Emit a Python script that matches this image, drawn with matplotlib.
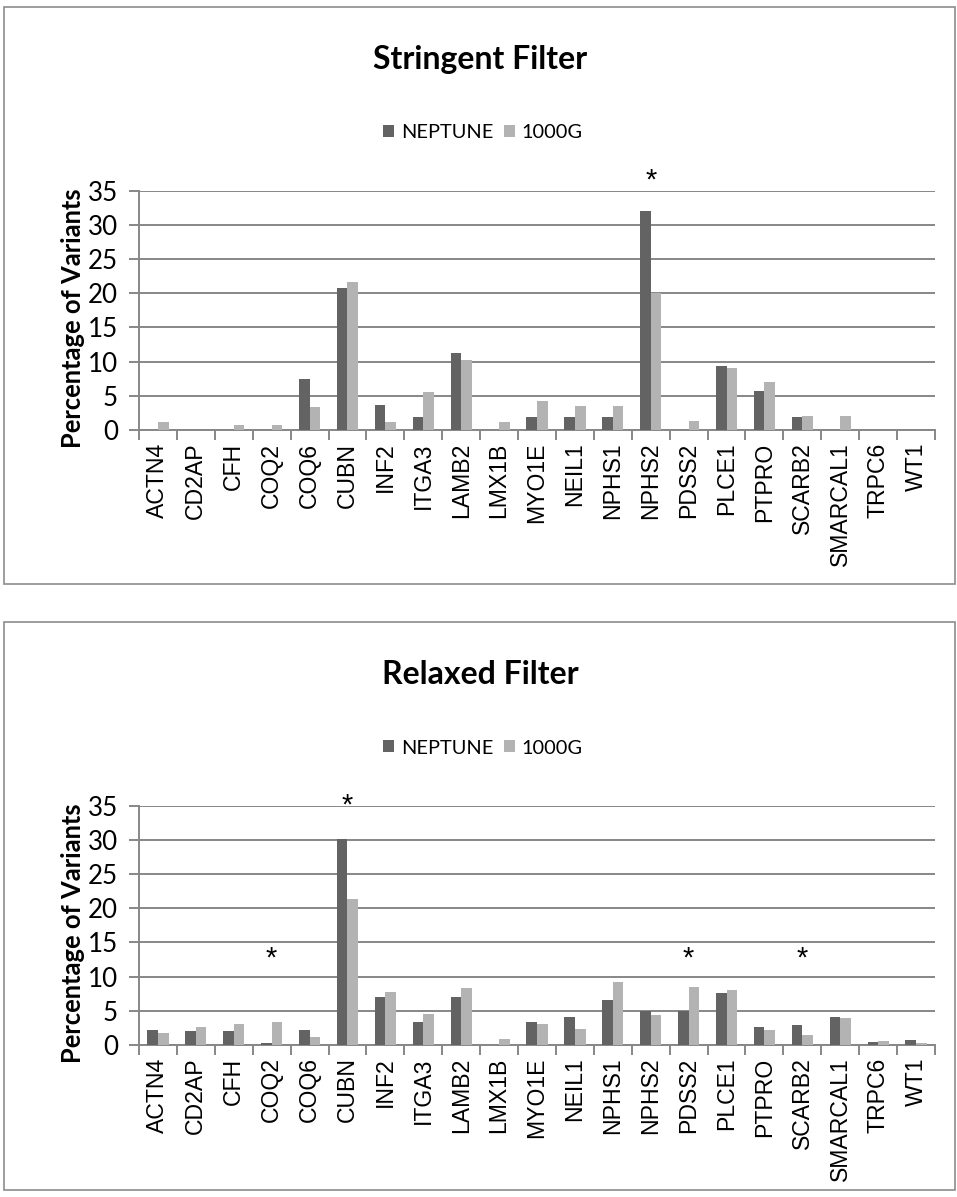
import matplotlib
matplotlib.use("Agg")
import matplotlib.pyplot as plt
from matplotlib.patches import Rectangle
import numpy as np

genes = ["ACTN4", "CD2AP", "CFH", "COQ2", "COQ6", "CUBN", "INF2", "ITGA3", "LAMB2",
         "LMX1B", "MYO1E", "NEIL1", "NPHS1", "NPHS2", "PDSS2", "PLCE1", "PTPRO",
         "SCARB2", "SMARCAL1", "TRPC6", "WT1"]

stringent_neptune = [0, 0, 0, 0, 7.5, 20.8, 3.7, 1.9, 11.3, 0, 1.9, 1.9, 1.9, 32.1,
                     0, 9.3, 5.7, 1.9, 0, 0, 0]
stringent_1000g = [1.1, 0, 0.8, 0.8, 3.3, 21.7, 1.1, 5.5, 10.2, 1.1, 4.2, 3.5, 3.5, 20.0,
                   1.3, 9.0, 7.0, 2.1, 2.1, 0, 0]

relaxed_neptune = [2.2, 2.0, 2.0, 0.25, 2.2, 30.2, 7.0, 3.4, 7.0, 0, 3.4, 4.1, 6.6, 5.0,
                   5.0, 7.6, 2.6, 2.9, 4.1, 0.45, 0.75]
relaxed_1000g = [1.8, 2.7, 3.0, 3.3, 1.2, 21.4, 7.7, 4.6, 8.4, 0.9, 3.0, 2.4, 9.2, 4.4,
                 8.5, 8.0, 2.2, 1.4, 4.0, 0.55, 0.3]

stringent_sig = {"NPHS2": 36.5}
relaxed_sig = {"COQ2": 12.6, "CUBN": 35.0, "PDSS2": 12.6, "SCARB2": 12.6}

series_names = ["NEPTUNE", "1000G"]
colors = ["#636363", "#b3b3b3"]
grid_col = "#878787"

W, H = 957, 1197
DPI = 100
fig = plt.figure(figsize=(W / DPI, H / DPI), dpi=DPI)

def px(v):
    return v * 72.0 / DPI

calibri = ["Lato", "DejaVu Sans"]
arial = ["Liberation Sans", "DejaVu Sans"]

def panel(y_off, box_h, title, nep, g1k, sig):
    fig.patches.append(Rectangle((4 / W, 1 - (y_off + 7 + box_h) / H), 951 / W, box_h / H,
                                 transform=fig.transFigure, fill=False,
                                 edgecolor="#8c8c8c", linewidth=1.2))
    x0, x1 = 139, 935
    ytop, ybot = 190.7 + y_off, 430 + y_off
    ax = fig.add_axes([x0 / W, 1 - ybot / H, (x1 - x0) / W, (ybot - ytop) / H])
    x = np.arange(len(genes))
    w = 0.28
    ax.bar(x - w / 2, nep, width=w, color=colors[0], label=series_names[0], zorder=3)
    ax.bar(x + w / 2, g1k, width=w, color=colors[1], label=series_names[1], zorder=3)
    ax.set_xlim(-0.5, len(genes) - 0.5)
    ax.set_ylim(0, 35)
    ax.set_yticks(np.arange(0, 36, 5))
    ax.yaxis.grid(True, color=grid_col, linewidth=1.4, zorder=0)
    ax.set_axisbelow(True)
    for s in ["top", "right"]:
        ax.spines[s].set_visible(False)
    for s in ["left", "bottom"]:
        ax.spines[s].set_color(grid_col)
        ax.spines[s].set_linewidth(1.4)
    ax.set_xticks(x)
    ax.set_xticklabels(genes, rotation=90, family=arial, fontsize=px(23))
    ax.set_xticks(np.arange(-0.5, len(genes)), minor=True)
    ax.tick_params(axis="x", which="major", length=0, pad=9)
    ax.tick_params(axis="x", which="minor", length=7, width=1.4, color=grid_col, direction="out")
    ax.tick_params(axis="y", length=7, width=1.4, color=grid_col, pad=8)
    for lab in ax.get_yticklabels():
        lab.set_family(calibri)
        lab.set_fontsize(px(26))
    ax.set_ylabel("Percentage of Variants", family=calibri, fontweight="bold",
                  fontsize=px(25.5))
    ax.yaxis.set_label_coords(-0.068, 0.468)
    for g, yv in sig.items():
        ax.text(genes.index(g), yv, "*", ha="center", va="center",
                fontsize=px(29), family=arial, clip_on=False)
    fig.text(480 / W, 1 - (y_off + 60) / H, title, ha="center", va="center",
             family=calibri, fontweight="bold", fontsize=px(32))
    fig.legend(handles=ax.containers, labels=series_names, loc="center",
               bbox_to_anchor=(483 / W, 1 - (y_off + 133) / H), ncol=2, frameon=False,
               prop={"family": calibri, "size": px(20)}, handlelength=0.55,
               handleheight=0.55, handletextpad=0.35, columnspacing=0.5)

panel(0, 577, "Stringent Filter", stringent_neptune, stringent_1000g, stringent_sig)
panel(615, 568, "Relaxed Filter", relaxed_neptune, relaxed_1000g, relaxed_sig)

fig.savefig("out.png", dpi=DPI)
